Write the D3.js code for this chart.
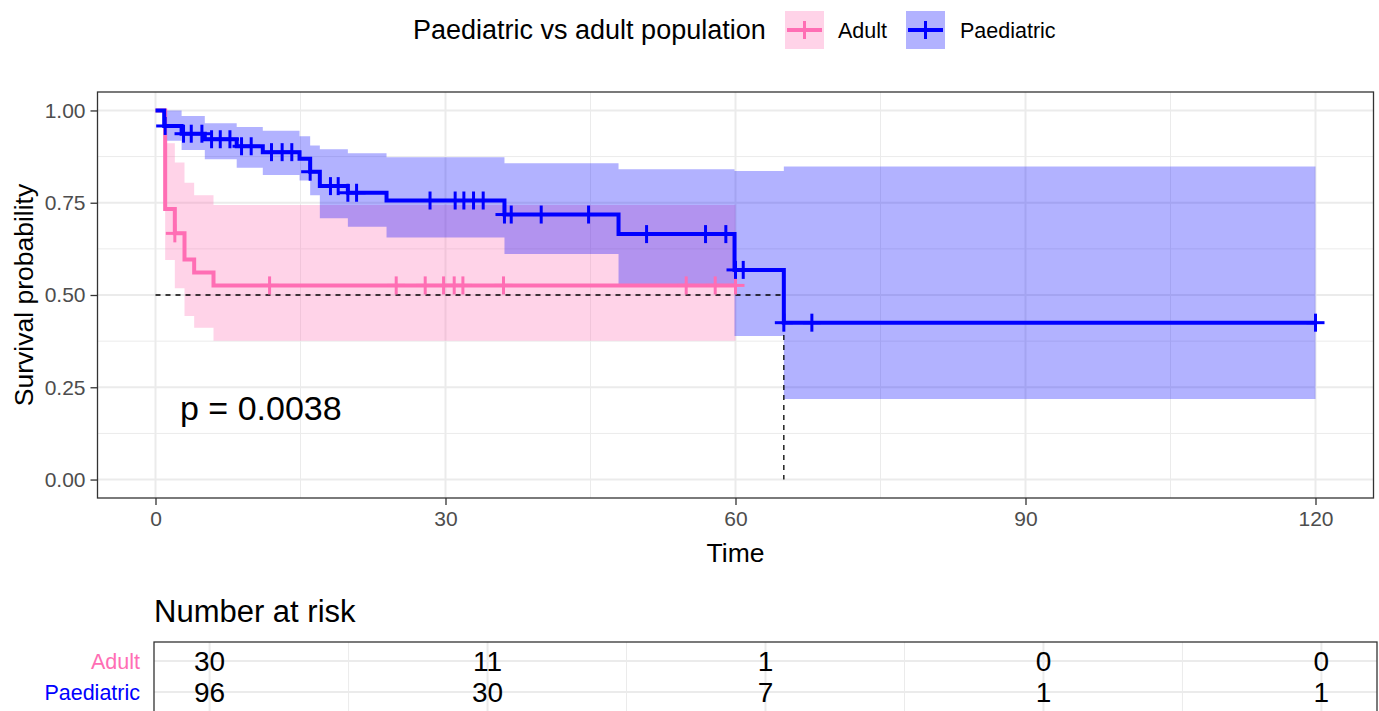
<!DOCTYPE html>
<html>
<head>
<meta charset="utf-8">
<script src="https://cdn.jsdelivr.net/npm/d3@7"></script>
<style>
  body { margin: 0; background: #fff; }
  svg { display: block; font-family: "Liberation Sans", Arial, sans-serif; }
</style>
</head>
<body>
<div id="chart"></div>
<script>
// ---- data ----
const groups = ["Adult", "Paediatric"];
const groupColors = ["#FF6EB4", "#0000FF"];

// Adult (n = 30)
const adultTime  = [0, 1, 2, 3, 4, 6];
const adultSurv  = [1, 0.733, 0.667, 0.596, 0.561, 0.526];
const adultUpper = [1, 0.911, 0.859, 0.804, 0.770, 0.744];
const adultLower = [1, 0.595, 0.518, 0.443, 0.411, 0.376];
const adultEnd = 60;
const adultCensor = [2, 11.8, 24.9, 27.9, 29.8, 30.9, 31.8, 36.0, 54.9, 57.9, 60];

// Paediatric (n = 96)
const paedTime  = [0, 0.9, 2.7, 5.1, 8.4, 11.1, 14.9, 16.0, 17.0, 19.9, 23.9, 36.1, 47.9, 59.9, 65.0];
const paedSurv  = [1, 0.958, 0.937, 0.922, 0.903, 0.887, 0.869, 0.834, 0.795, 0.777, 0.756, 0.718, 0.665, 0.568, 0.425];
const paedUpper = [1, 1.0, 0.985, 0.965, 0.955, 0.945, 0.93, 0.905, 0.895, 0.884, 0.873, 0.857, 0.841, 0.836, 0.848];
const paedLower = [1, 0.918, 0.893, 0.868, 0.845, 0.825, 0.81, 0.77, 0.708, 0.685, 0.656, 0.611, 0.53, 0.389, 0.218];
const paedEnd = 120;
const paedCensor = [1.0, 2.9, 3.7, 4.8, 5.8, 6.7, 7.7, 8.9, 9.9, 12.0, 13.1, 14.1, 16.0, 18.1, 18.9, 19.9, 20.8,
                    28.4, 31.0, 31.9, 32.9, 33.9, 36.1, 36.8, 39.9, 44.8, 50.8, 56.9, 59.0, 60.0, 60.8, 65.0, 67.9, 120];

const medianTime = 65.0;
const pValueText = "p = 0.0038";

// number at risk
const riskTimes = [0, 30, 60, 90, 120];
const adultRisk = [30, 11, 1, 0, 0];
const paedRisk  = [96, 30, 7, 1, 1];

const xTicks = [0, 30, 60, 90, 120];
const yTicks = [0, 0.25, 0.5, 0.75, 1];

// ---- layout ----
const W = 1379, H = 711;
const panel = {left: 97.5, right: 1373.5, top: 92, bottom: 498};
const table = {left: 154, right: 1377, top: 642, bottom: 713};

const svg = d3.select("#chart").append("svg")
    .attr("width", W).attr("height", H);

const x = d3.scaleLinear().domain([-6, 126]).range([panel.left, panel.right]);
const y = d3.scaleLinear().domain([-0.05, 1.05]).range([panel.bottom, panel.top]);

// Grid
const grid = svg.append("g");
const minorX = d3.range(15, 120, 30);
const minorY = [0.125, 0.375, 0.625, 0.875];
grid.selectAll(".mx").data(minorX).join("line")
    .attr("x1", d => x(d)).attr("x2", d => x(d))
    .attr("y1", panel.top).attr("y2", panel.bottom)
    .attr("stroke", "#EBEBEB").attr("stroke-width", 1);
grid.selectAll(".my").data(minorY).join("line")
    .attr("y1", d => y(d)).attr("y2", d => y(d))
    .attr("x1", panel.left).attr("x2", panel.right)
    .attr("stroke", "#EBEBEB").attr("stroke-width", 1);
grid.selectAll(".Mx").data(xTicks).join("line")
    .attr("x1", d => x(d)).attr("x2", d => x(d))
    .attr("y1", panel.top).attr("y2", panel.bottom)
    .attr("stroke", "#EBEBEB").attr("stroke-width", 2);
grid.selectAll(".My").data(yTicks).join("line")
    .attr("y1", d => y(d)).attr("y2", d => y(d))
    .attr("x1", panel.left).attr("x2", panel.right)
    .attr("stroke", "#EBEBEB").attr("stroke-width", 2);

// build step rows
function rows(time, surv, upper, lower, end) {
    const r = time.map((t, i) => ({t: t, s: surv[i], u: upper[i], l: lower[i]}));
    const last = r[r.length - 1];
    r.push({t: end, s: last.s, u: last.u, l: last.l});
    return r;
}
const series = [
    {name: "Adult", color: groupColors[0], fill: "rgba(255,110,180,0.3)",
     data: rows(adultTime, adultSurv, adultUpper, adultLower, adultEnd), censor: adultCensor},
    {name: "Paediatric", color: groupColors[1], fill: "rgba(0,0,255,0.3)",
     data: rows(paedTime, paedSurv, paedUpper, paedLower, paedEnd), censor: paedCensor}
];

function survAt(data, t) {
    let s = data[0].s;
    data.forEach(d => { if (d.t <= t) s = d.s; });
    return s;
}

const area = d3.area().curve(d3.curveStepAfter)
    .x(d => x(d.t)).y0(d => y(d.l)).y1(d => y(d.u));
const line = d3.line().curve(d3.curveStepAfter)
    .x(d => x(d.t)).y(d => y(d.s));

// ribbons
series.forEach(s => {
    svg.append("path").datum(s.data).attr("d", area).attr("fill", s.fill);
});

// median lines
svg.append("line")
    .attr("x1", x(0)).attr("x2", x(medianTime))
    .attr("y1", y(0.5)).attr("y2", y(0.5))
    .attr("stroke", "#000").attr("stroke-width", 1.3).attr("stroke-dasharray", "5,5");
svg.append("line")
    .attr("x1", x(medianTime)).attr("x2", x(medianTime))
    .attr("y1", y(0.5)).attr("y2", y(0))
    .attr("stroke", "#000").attr("stroke-width", 1.3).attr("stroke-dasharray", "5,5");

// curves + censor marks
const mark = 9;
series.forEach(s => {
    svg.append("path").datum(s.data).attr("d", line)
        .attr("fill", "none").attr("stroke", s.color).attr("stroke-width", 4);
    const g = svg.append("g").attr("stroke", s.color).attr("stroke-width", 3);
    s.censor.forEach(t => {
        const cx = x(t), cy = y(survAt(s.data, t));
        g.append("line").attr("x1", cx - mark).attr("x2", cx + mark).attr("y1", cy).attr("y2", cy);
        g.append("line").attr("x1", cx).attr("x2", cx).attr("y1", cy - mark).attr("y2", cy + mark);
    });
});

// panel border
svg.append("rect")
    .attr("x", panel.left).attr("y", panel.top)
    .attr("width", panel.right - panel.left).attr("height", panel.bottom - panel.top)
    .attr("fill", "none").attr("stroke", "#333").attr("stroke-width", 1.3);

// axes
const xAxis = svg.append("g")
    .attr("transform", `translate(0,${panel.bottom})`)
    .call(d3.axisBottom(x).tickValues(xTicks).tickSize(7).tickPadding(6).tickFormat(d3.format("d")));
const yAxis = svg.append("g")
    .attr("transform", `translate(${panel.left},0)`)
    .call(d3.axisLeft(y).tickValues(yTicks).tickSize(7).tickPadding(5).tickFormat(d3.format(".2f")));
[xAxis, yAxis].forEach(a => {
    a.select(".domain").remove();
    a.selectAll(".tick line").attr("stroke", "#333").attr("stroke-width", 1.3);
    a.selectAll(".tick text").attr("fill", "#4D4D4D")
        .style("font-size", "21px").style("font-family", "Liberation Sans, Arial, sans-serif");
});

svg.append("text").attr("x", x(60)).attr("y", 562)
    .attr("text-anchor", "middle").style("font-size", "26.5px").text("Time");
svg.append("text")
    .attr("transform", `translate(33,${(panel.top + panel.bottom) / 2}) rotate(-90)`)
    .attr("text-anchor", "middle").style("font-size", "26.5px").text("Survival probability");

// p-value
svg.append("text").attr("x", 180).attr("y", 420)
    .style("font-size", "34px").text(pValueText);

// legend
const legend = svg.append("g");
legend.append("text").attr("x", 413).attr("y", 39)
    .style("font-size", "27px").text("Paediatric vs adult population");
const keyX = [785, 906], labelX = [838, 960];
series.forEach((s, i) => {
    legend.append("rect").attr("x", keyX[i]).attr("y", 11).attr("width", 39).attr("height", 38)
        .attr("fill", s.fill);
    legend.append("line").attr("x1", keyX[i] + 2).attr("x2", keyX[i] + 37).attr("y1", 30).attr("y2", 30)
        .attr("stroke", s.color).attr("stroke-width", 4);
    legend.append("line").attr("x1", keyX[i] + 19.5).attr("x2", keyX[i] + 19.5).attr("y1", 21).attr("y2", 39)
        .attr("stroke", s.color).attr("stroke-width", 3);
    legend.append("text").attr("x", labelX[i]).attr("y", 37.5)
        .style("font-size", "21.5px").text(s.name);
});

// risk table
svg.append("text").attr("x", table.left).attr("y", 622)
    .style("font-size", "31px").text("Number at risk");

const xt = d3.scaleLinear().domain([-6, 126]).range([table.left, table.right]);
const yt = d3.scalePoint().domain(groups).range([661, 692]);

const tg = svg.append("g");
tg.selectAll(".tmx").data(minorX).join("line")
    .attr("x1", d => xt(d)).attr("x2", d => xt(d))
    .attr("y1", table.top).attr("y2", table.bottom)
    .attr("stroke", "#EBEBEB").attr("stroke-width", 1);
tg.selectAll(".tMx").data(riskTimes).join("line")
    .attr("x1", d => xt(d)).attr("x2", d => xt(d))
    .attr("y1", table.top).attr("y2", table.bottom)
    .attr("stroke", "#EBEBEB").attr("stroke-width", 2);
tg.selectAll(".tMy").data(groups).join("line")
    .attr("y1", d => yt(d)).attr("y2", d => yt(d))
    .attr("x1", table.left).attr("x2", table.right)
    .attr("stroke", "#EBEBEB").attr("stroke-width", 2);

const riskRows = [adultRisk, paedRisk];
groups.forEach((gname, gi) => {
    riskRows[gi].forEach((n, j) => {
        tg.append("text").attr("x", xt(riskTimes[j])).attr("y", yt(gname) + 10)
            .attr("text-anchor", "middle").style("font-size", "28px").text(n);
    });
    svg.append("text").attr("x", 140).attr("y", yt(gname) + 8)
        .attr("text-anchor", "end").attr("fill", groupColors[gi])
        .style("font-size", "21.5px").text(gname);
});
svg.append("rect")
    .attr("x", table.left).attr("y", table.top)
    .attr("width", table.right - table.left).attr("height", table.bottom - table.top)
    .attr("fill", "none").attr("stroke", "#333").attr("stroke-width", 1.3);
</script>
</body>
</html>
